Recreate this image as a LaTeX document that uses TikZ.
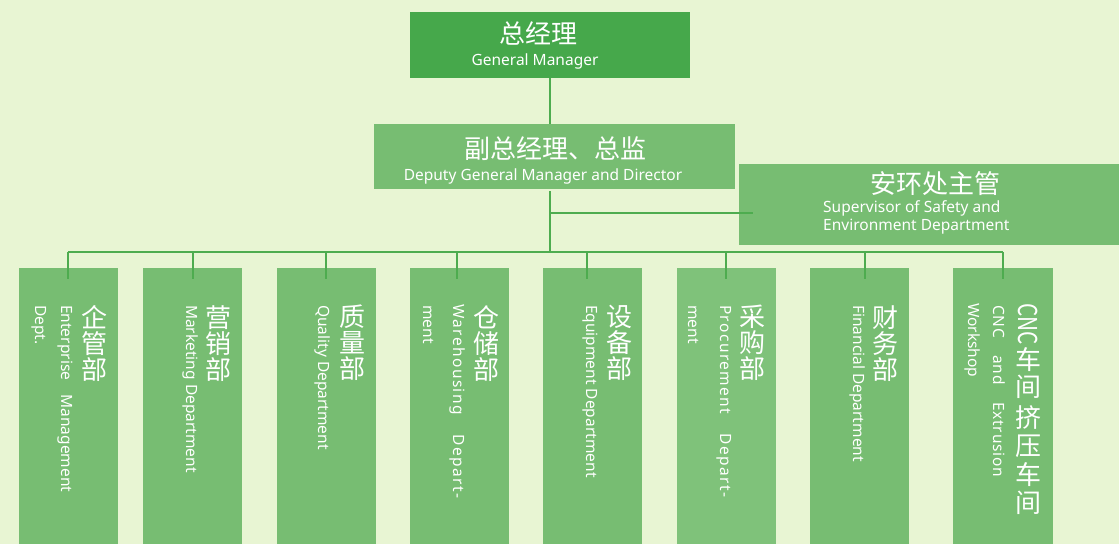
\documentclass[tikz,border=0pt]{standalone}
\usepackage{fontspec}
\setmainfont{Noto Sans}
\newfontfamily\cjk{Noto Sans CJK SC}
\definecolor{bg}{HTML}{E8F5D3}
\definecolor{boxgreen}{HTML}{77BD72}
\definecolor{boxlight}{HTML}{7FC27A}
\definecolor{gmgreen}{HTML}{46A84B}
\definecolor{linegreen}{HTML}{4EAC4F}
\begin{document}
\begin{tikzpicture}[x=1pt,y=-1pt,
  box/.style={fill=boxgreen, draw=none, inner sep=0, anchor=north west},
  conn/.style={draw=linegreen, line width=1.6pt},
  zh/.style={text=white, inner sep=0, font=\cjk\fontsize{26}{26}\selectfont},
  en/.style={text=white, inner sep=0, font=\fontsize{15.5}{18}\selectfont},
  zhcol/.style={text=white, inner sep=0, align=center, anchor=north, font=\cjk\fontsize{26}{26}\selectfont},
  vt/.style={en, rotate=-90, anchor=base west}]
\useasboundingbox (0,0) rectangle (1119,544);
\fill[bg] (0,0) rectangle (1119,544);

% boxes
\node[box, fill=gmgreen, minimum width=280, minimum height=66] (gm) at (410,12) {};
\node[box, minimum width=361, minimum height=65] (dep) at (374,124) {};
\node[box, minimum width=380, minimum height=81] (safe) at (739,164) {};
\node[box, minimum width=99, minimum height=276] (d1) at (19,268) {};
\node[box, minimum width=99, minimum height=276] (d2) at (143,268) {};
\node[box, minimum width=99, minimum height=276] (d3) at (277,268) {};
\node[box, minimum width=99, minimum height=276] (d4) at (410,268) {};
\node[box, minimum width=99, minimum height=276] (d5) at (543,268) {};
\node[box, fill=boxlight, minimum width=99, minimum height=276] (d6) at (677,268) {};
\node[box, minimum width=99, minimum height=276] (d7) at (810,268) {};
\node[box, minimum width=100, minimum height=276] (d8) at (953,268) {};

% connectors
\coordinate (t0) at (550,191);
\coordinate (tb) at (550,252);
\coordinate (br) at (550,213);
\coordinate (brend) at (753,213);
\draw[conn] (gm.south) -- (gm.south |- dep.north);
\draw[conn] (t0) -- (tb);
\draw[conn] (br) -- (brend);
\foreach \i/\x in {1/68,2/193,3/326,4/457,5/587,6/726,7/865,8/1003}{
  \coordinate (b\i) at (\x,252);
  \coordinate (e\i) at (\x,279);
}
\draw[conn] (b1) -- (b8);
\foreach \i in {1,...,8}{\draw[conn] (b\i) -- (e\i);}

% top texts
\node[zh, anchor=base] (gmzh) at (538,43) {总经理};
\node[en, anchor=base] (gmen) at (535,65) {General Manager};
\node[zh, anchor=base] (depzh) at (555,158) {副总经理、总监};
\node[en, anchor=base] (depen) at (543,180) {Deputy General Manager and Director};
\node[zh, anchor=base] (safezh) at (935,193) {安环处主管};
\node[en, anchor=base west] (safeen1) at (823,212) {Supervisor of Safety and};
\node[en, anchor=base west] (safeen2) at (823,230) {Environment Department};

% department texts
\node[zhcol] (z1) at (94,305) {企\\管\\部};
\node[vt] (n1a) at (61.5,305) {\makebox[187pt][s]{Enterprise Management}};
\node[vt] (n1b) at (35.5,305) {Dept.};

\node[zhcol] (z2) at (218.5,305) {营\\销\\部};
\node[vt] (n2a) at (186.5,305) {Marketing Department};

\node[zhcol] (z3) at (352.5,305) {质\\量\\部};
\node[vt] (n3a) at (318.5,305) {Quality Department};

\node[zhcol] (z4) at (486,305) {仓\\储\\部};
\node[vt] (n4a) at (453.5,304) {\addfontfeature{LetterSpace=9}\makebox[194pt][s]{Warehousing Depart-}};
\node[vt] (n4b) at (423,305) {ment};

\node[zhcol] (z5) at (619,305) {设\\备\\部};
\node[vt] (n5a) at (586.5,305) {Equipment Department};

\node[zhcol] (z6) at (752,305) {采\\购\\部};
\node[vt] (n6a) at (720.5,305) {\addfontfeature{LetterSpace=9}\makebox[192pt][s]{Procurement Depart-}};
\node[vt] (n6b) at (688,305) {ment};

\node[zhcol] (z7) at (885.5,305) {财\\务\\部};
\node[vt] (n7a) at (853.5,305) {Financial Department};

\node[zh, rotate=-90, anchor=base west] (z8a) at (1018.5,303) {\scalebox{0.8}[1]{CNC}};
\node[zhcol, font=\cjk\fontsize{26}{27}\selectfont] (z8b) at (1028.5,347) {车\\间};
\node[zhcol, font=\cjk\fontsize{26}{28.5}\selectfont] (z8c) at (1028.5,405) {挤\\压\\车\\间};
\node[vt] (n8a) at (993,305) {\addfontfeature{LetterSpace=5}\makebox[172pt][s]{CNC and Extrusion}};
\node[vt] (n8b) at (968.5,303) {Workshop};
\end{tikzpicture}
\end{document}
